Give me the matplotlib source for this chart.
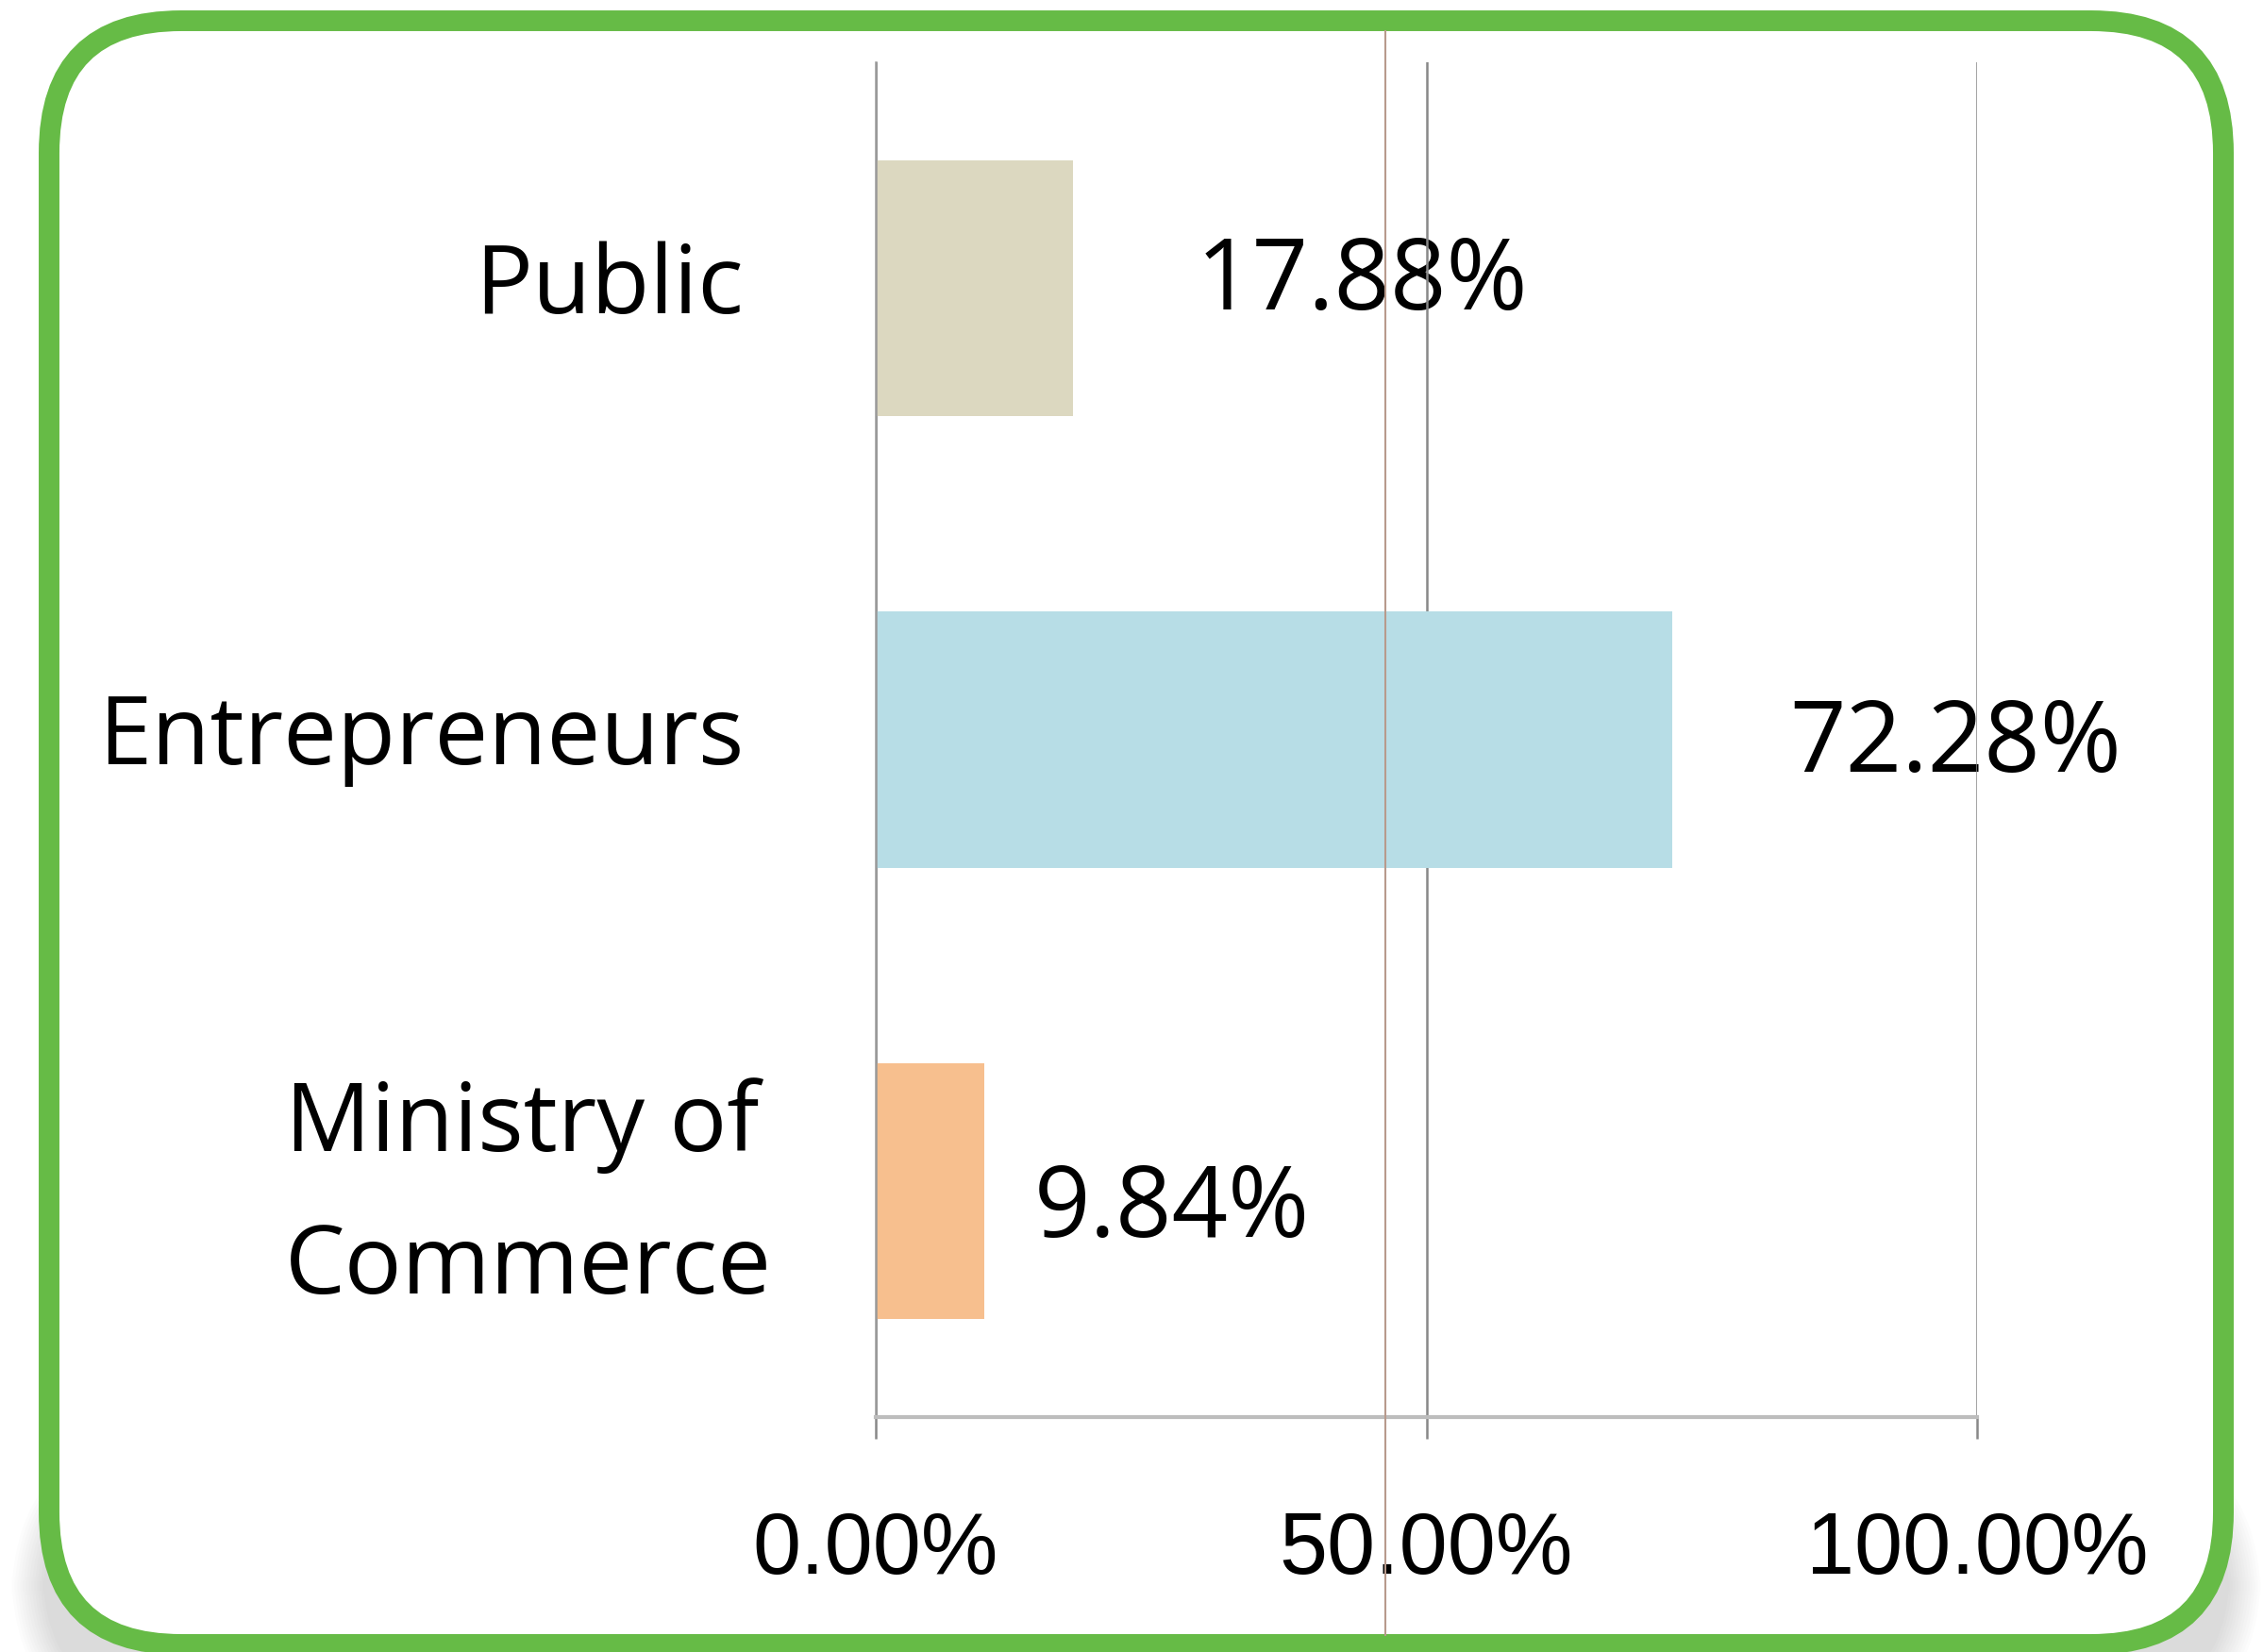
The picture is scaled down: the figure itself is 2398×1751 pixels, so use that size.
import matplotlib.pyplot as plt
from matplotlib.patches import FancyBboxPatch
from matplotlib.transforms import blended_transform_factory
import numpy as np


categories = ['Public', 'Entrepreneurs', 'Ministry of\nCommerce']
shares = [17.88, 72.28, 9.84]
bar_colors = ['#dcd8c0', '#b7dde6', '#f7bf8e']
xticks = [0, 50, 100]
xtick_labels = ['0.00%', '50.00%', '100.00%']
marker_line = 46.3  # the thin brown line crossing the chart

# placement tweaks for the value labels (in % units / category units)
label_gap = [11.2, 10.7, 4.5]
label_dy = [-0.01, 0.015, 0.045]
# right edge of category labels in axes coords
cat_x = [-0.12, -0.12, -0.094]

W, H, DPI = 2398, 1751, 100
fig = plt.figure(figsize=(W / DPI, H / DPI), dpi=DPI)
fig.patch.set_facecolor('white')

# soft shadow near the bottom of the frame (pixel -> inch coords)
px = 1.0 / DPI
for i in range(12):
    grow = i * 3 * px
    sh = FancyBboxPatch((45 * px - grow, -60 * px - grow),
                        (2318 * px + 2 * grow), (260 * px + 2 * grow),
                        boxstyle='round,pad=0,rounding_size=%f' % (150 * px + grow),
                        transform=fig.dpi_scale_trans, facecolor='#000000',
                        edgecolor='none', alpha=0.012, zorder=-3)
    fig.patches.append(sh)

# green rounded frame
frame = FancyBboxPatch((52 * px, (H - 1743) * px), 2304 * px, 1721 * px,
                       boxstyle='round,pad=0,rounding_size=%f' % (140 * px),
                       transform=fig.dpi_scale_trans, facecolor='white',
                       edgecolor='#66bb46', linewidth=15.8, zorder=-1)
fig.patches.append(frame)

ax = fig.add_axes([928 / W, 1 - 1502 / H, 1167 / W, 1436 / H])
ax.set_facecolor('none')

y = np.arange(len(categories))
ax.barh(y, shares, height=0.567, color=bar_colors, zorder=1)

ax.set_xlim(0, 100)
ax.set_ylim(2.5, -0.5)
ax.set_xticks(xticks)
ax.set_xticklabels(xtick_labels, fontfamily='Liberation Sans', fontsize=66)
ax.tick_params(axis='x', direction='out', length=16.5, width=1.8,
               color='#888888', pad=55)
ax.set_yticks([])

ax.grid(axis='x', color='#888888', linewidth=1.8)
ax.set_axisbelow(True)
for side in ['top', 'right']:
    ax.spines[side].set_visible(False)
ax.spines['left'].set_color('#999999')
ax.spines['left'].set_linewidth(1.8)
ax.spines['bottom'].set_color('#bdbdbd')
ax.spines['bottom'].set_linewidth(3)

trans = blended_transform_factory(ax.transAxes, ax.transData)
for i, name in enumerate(categories):
    ax.text(cat_x[i], y[i] + (0.012 if '\n' in name else 0), name,
            transform=trans, ha='right', va='center',
            multialignment='left', fontfamily='Open Sans', fontsize=73,
            linespacing=1.66)

for i, v in enumerate(shares):
    ax.text(v + label_gap[i], y[i] + label_dy[i], '%.2f%%' % v,
            ha='left', va='center', fontfamily='Open Sans', fontsize=75,
            zorder=0.4)

top = (1502 - 33) / 1436
bottom = (1502 - 1733) / 1436
ax.axvline(marker_line, ymin=bottom, ymax=top, color='#b89a8c',
           linewidth=1.5, clip_on=False, zorder=6)

fig.savefig('out.png', dpi=DPI)
